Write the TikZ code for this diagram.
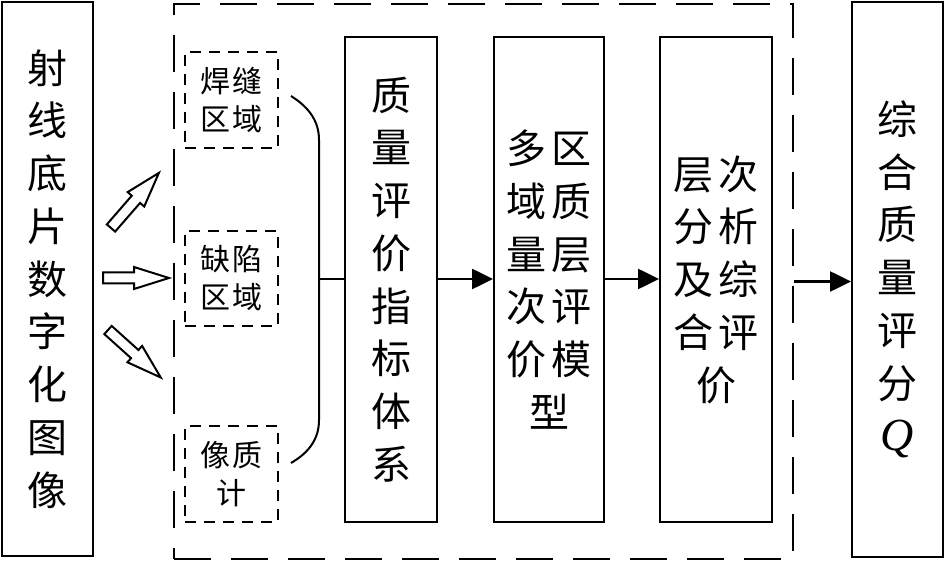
\documentclass[tikz,border=0pt]{standalone}
\usepackage{fontspec}
\setmainfont{Liberation Serif}
\newfontfamily\cjk{Noto Sans CJK SC}
\usetikzlibrary{arrows.meta}
\newcommand{\blockarr}[4]{%
  \draw[blockarrow,shift={(#1,#2)},rotate=#3] (0,-5.5) -- (#4-35,-5.5) -- (#4-35,-11) -- (#4,0) -- (#4-35,11) -- (#4-35,5.5) -- (0,5.5) -- cycle;}
\tikzset{
  solidbox/.style={draw,line width=2pt,inner sep=0pt,align=center,font=\cjk\fontsize{40}{52.75}\selectfont},
  smallbox/.style={draw,line width=1.6pt,dash pattern=on 11pt off 8pt,inner sep=0pt,align=center,minimum width=93pt,font=\cjk\fontsize{30}{38}\selectfont},
  framebox/.style={draw,line width=2.6pt,dash pattern=on 37pt off 20pt,inner sep=0pt},
  conn/.style={line width=2.6pt,-{Triangle[length=21pt,width=20pt]}},
  bracestyle/.style={line width=2pt},
  blockarrow/.style={line width=2pt,fill=white,line join=miter}
}
\begin{document}
\begin{tikzpicture}[x=1pt,y=-1pt]
\useasboundingbox (0,0) rectangle (945,561);
% outer dashed frame
\node[framebox,minimum width=619pt,minimum height=555pt] (frame) at (483.5,281.5) {};
% left box
\node[solidbox,minimum width=91pt,minimum height=554pt] (left) at (47.5,279) {射\\线\\底\\片\\数\\字\\化\\图\\像};
% small dashed boxes
\node[smallbox,minimum height=96pt] (s1) at (231.5,100) {焊\hspace{2pt}缝\\区\hspace{2pt}域};
\node[smallbox,minimum height=95pt] (s2) at (231.5,278.5) {缺\hspace{2pt}陷\\区\hspace{2pt}域};
\node[smallbox,minimum height=96pt] (s3) at (231.5,474) {像\hspace{2pt}质\\计};
% main boxes
\node[solidbox,minimum width=92pt,minimum height=485pt] (b2) at (391,279.5) {质\\量\\评\\价\\指\\标\\体\\系};
\node[solidbox,minimum width=110pt,minimum height=485pt] (b3) at (549,279.5) {多\hspace{5pt}区\\域\hspace{5pt}质\\量\hspace{5pt}层\\次\hspace{5pt}评\\价\hspace{5pt}模\\型};
\node[solidbox,minimum width=112pt,minimum height=485pt] (b4) at (716,279.5) {层\hspace{5pt}次\\分\hspace{5pt}析\\及\hspace{5pt}综\\合\hspace{5pt}评\\价};
% right box
\node[solidbox,minimum width=91pt,minimum height=555pt] (right) at (897.5,279.5) {综\\合\\质\\量\\评\\分\\{\normalfont\itshape\fontsize{46}{52.75}\selectfont Q}};
% block arrows
\blockarr{111}{228}{49}{73}
\blockarr{103}{278}{0}{66}
\blockarr{108}{330}{-42}{71}
% brace
\coordinate (bt) at (291,96);
\coordinate (bb) at (291,463);
\coordinate (bj) at (319,279);
\draw[bracestyle] (bt) .. controls (310,108) and (319,122) .. (319,140) -- (319,420) .. controls (319,438) and (310,452) .. (bb);
\draw[bracestyle] (bj) -- (b2.west |- bj);
% connectors
\draw[conn] (b2.east |- bj) -- (b3.west |- bj);
\draw[conn] (b3.east |- bj) -- (b4.west |- bj);
\draw[conn] (frame.east) -- (right.west |- frame.east);
\end{tikzpicture}
\end{document}
